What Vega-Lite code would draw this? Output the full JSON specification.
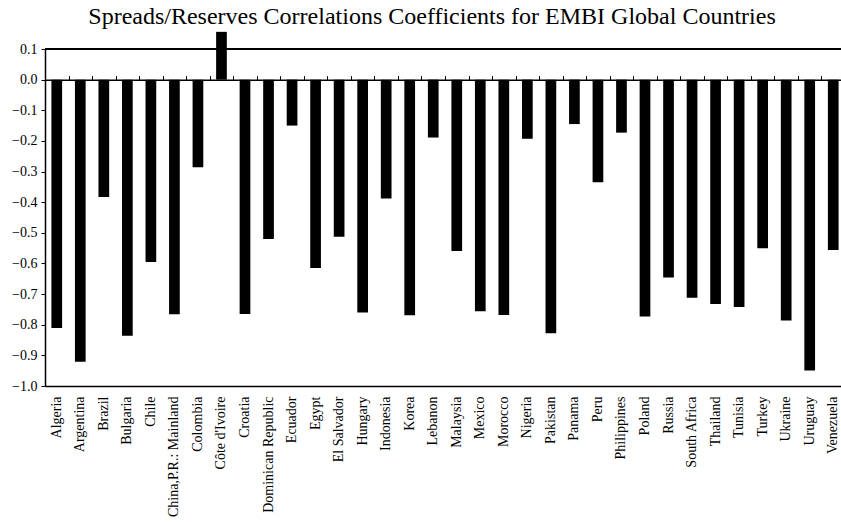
{
  "$schema": "https://vega.github.io/schema/vega-lite/v6.json",
  "autosize": {"type": "none"},
  "width": 796,
  "height": 337,
  "padding": {"left": 45, "top": 49, "right": 0, "bottom": 136},
  "background": "white",
  "config": {
    "view": {"stroke": null},
    "font": "Liberation Serif",
    "axis": {"labelFont": "Liberation Serif", "labelColor": "black", "domainColor": "black", "tickColor": "black", "grid": false}
  },
  "title": {
    "text": "Spreads/Reserves Correlations Coefficients for EMBI Global Countries",
    "font": "Liberation Serif",
    "fontSize": 24,
    "fontWeight": "normal",
    "color": "black",
    "anchor": "middle",
    "frame": "group",
    "baseline": "alphabetic",
    "offset": -16,
    "dx": -11
  },
  "data": {
    "values": [
      {"country": "Algeria", "value": -0.811},
      {"country": "Argentina", "value": -0.921},
      {"country": "Brazil", "value": -0.383},
      {"country": "Bulgaria", "value": -0.836},
      {"country": "Chile", "value": -0.595},
      {"country": "China,P.R.: Mainland", "value": -0.766},
      {"country": "Colombia", "value": -0.286},
      {"country": "Côte d'Ivoire", "value": 0.156},
      {"country": "Croatia", "value": -0.765},
      {"country": "Dominican Republic", "value": -0.52},
      {"country": "Ecuador", "value": -0.15},
      {"country": "Egypt", "value": -0.615},
      {"country": "El Salvador", "value": -0.513},
      {"country": "Hungary", "value": -0.76},
      {"country": "Indonesia", "value": -0.388},
      {"country": "Korea", "value": -0.769},
      {"country": "Lebanon", "value": -0.189},
      {"country": "Malaysia", "value": -0.559},
      {"country": "Mexico", "value": -0.756},
      {"country": "Morocco", "value": -0.768},
      {"country": "Nigeria", "value": -0.193},
      {"country": "Pakistan", "value": -0.828},
      {"country": "Panama", "value": -0.145},
      {"country": "Peru", "value": -0.335},
      {"country": "Philippines", "value": -0.173},
      {"country": "Poland", "value": -0.773},
      {"country": "Russia", "value": -0.646},
      {"country": "South Africa", "value": -0.712},
      {"country": "Thailand", "value": -0.732},
      {"country": "Tunisia", "value": -0.742},
      {"country": "Turkey", "value": -0.55},
      {"country": "Ukraine", "value": -0.786},
      {"country": "Uruguay", "value": -0.949},
      {"country": "Venezuela", "value": -0.556}
    ]
  },
  "resolve": {"axis": {"x": "independent"}},
  "layer": [
    {
      "mark": {"type": "bar", "color": "black", "width": {"band": 0.455}, "clip": false},
      "encoding": {
        "x": {
          "field": "country", "type": "nominal", "sort": null,
          "scale": {"range": [0, 800], "paddingInner": 0, "paddingOuter": 0},
          "axis": {"orient": "bottom", "title": null, "ticks": false, "labelAngle": -90, "labelAlign": "right", "labelBaseline": "middle", "labelPadding": 10, "labelFontSize": 14, "labelLimit": 200, "labelOverlap": false, "domainWidth": 1.5}
        },
        "y": {
          "field": "value", "type": "quantitative",
          "scale": {"domain": [-1, 0.1], "nice": false, "zero": false},
          "axis": {"title": null, "values": [-1, -0.9, -0.8, -0.7, -0.6, -0.5, -0.4, -0.3, -0.2, -0.1, 0, 0.1], "format": ".1f", "labelFont": "Liberation Serif", "labelFontSize": 14, "labelOverlap": false, "labelBound": false, "tickSize": 4, "labelPadding": 4, "domainWidth": 1.5}
        }
      }
    },
    {
      "mark": {"type": "bar", "opacity": 0},
      "encoding": {
        "x": {
          "field": "country", "type": "nominal", "sort": null,
          "axis": {"orient": "top", "title": null, "labels": false, "ticks": true, "tickBand": "extent", "tickSize": 4, "offset": -30.64, "domainWidth": 1.5}
        }
      }
    },
    {
      "mark": {"type": "rule", "color": "black", "strokeWidth": 1.5},
      "encoding": {
        "y": {
          "datum": 0.1,
          "axis": {"title": null, "values": [-1, -0.9, -0.8, -0.7, -0.6, -0.5, -0.4, -0.3, -0.2, -0.1, 0, 0.1], "format": ".1f", "labelFont": "Liberation Serif", "labelFontSize": 14, "labelOverlap": false, "labelBound": false, "tickSize": 4, "labelPadding": 4, "domainWidth": 1.5}
        }
      }
    }
  ]
}
